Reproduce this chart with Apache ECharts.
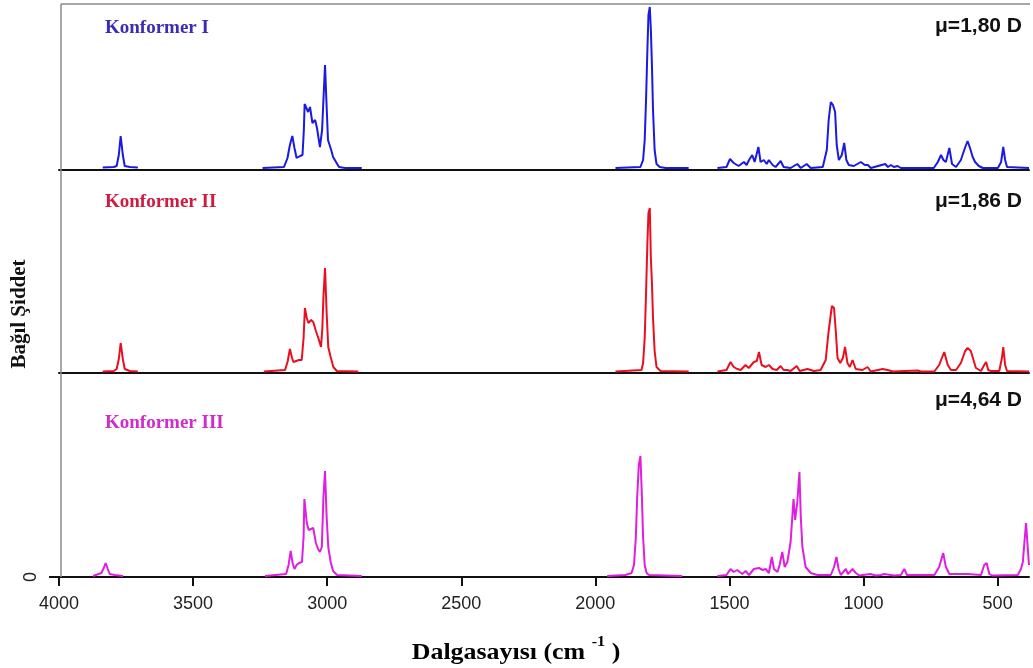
<!DOCTYPE html>
<html>
<head>
<meta charset="utf-8">
<script src="https://cdn.jsdelivr.net/npm/echarts@6/dist/echarts.min.js"></script>
<style>
html,body{margin:0;padding:0;background:#fff;}
#chart{width:1033px;height:668px;}
</style>
</head>
<body>
<div id="chart"></div>
<script>
// ---- Data (wavenumber cm-1, relative intensity) ----
const xTicks = [4000, 3500, 3000, 2500, 2000, 1500, 1000, 500];
const panelNames = ['Konformer I', 'Konformer II', 'Konformer III'];
const dipoleLabels = ['μ=1,80 D', 'μ=1,86 D', 'μ=4,64 D'];

const spectrumI = [
  [[3837,2.5],[3796,3],[3785,4],[3777,15],[3770,34],[3762,15],[3755,4],[3736,3],[3706,2.5]],
  [[3241,2],[3161,3],[3148,12],[3139,25],[3130,34],[3122,22],[3114,12],[3101,14],[3092,15],[3087,40],[3084,66],[3079,64],[3071,58],[3064,63],[3055,47],[3045,50],[3038,42],[3027,23],[3019,40],[3014,70],[3008,105],[3003,70],[2997,30],[2985,20],[2978,13],[2967,8],[2956,3],[2933,2],[2871,2]],
  [[1925,2],[1832,3],[1822,10],[1816,30],[1811,70],[1806,120],[1802,155],[1797,163],[1793,140],[1789,105],[1785,60],[1779,20],[1772,6],[1760,3],[1738,2],[1652,2]],
  [[1545,2],[1511,3],[1498,11],[1484,7],[1466,4],[1446,8],[1436,5],[1427,10],[1421,8],[1415,15],[1406,8],[1392,23],[1384,8],[1372,10],[1361,6],[1353,10],[1339,5],[1328,3],[1309,9],[1298,3],[1272,2],[1247,6],[1234,2],[1212,6],[1197,2],[1152,3],[1137,20],[1130,50],[1122,68],[1114,65],[1106,58],[1100,25],[1092,10],[1081,15],[1072,27],[1064,10],[1055,5],[1036,4],[1010,8],[995,5],[984,5],[973,2],[919,6],[909,3],[898,5],[887,3],[873,4],[861,2],[738,2],[723,8],[711,15],[702,10],[693,8],[680,22],[670,6],[655,3],[637,10],[622,22],[612,29],[603,22],[593,13],[584,8],[577,9],[570,4],[555,2],[499,2],[487,8],[479,23],[472,10],[465,3],[383,2]]
];

const spectrumII = [
  [[3837,1.5],[3796,2],[3785,4],[3777,14],[3770,30],[3762,14],[3755,4],[3736,2],[3706,1.5]],
  [[3236,1.5],[3157,3],[3147,12],[3139,24],[3131,15],[3126,11],[3116,12],[3105,13],[3095,13],[3088,35],[3083,65],[3076,55],[3070,50],[3060,53],[3052,51],[3042,42],[3033,35],[3023,26],[3018,45],[3014,76],[3008,105],[3002,60],[2996,26],[2987,16],[2977,6],[2964,2],[2884,1.5]],
  [[1925,1.5],[1828,3],[1822,10],[1816,35],[1811,80],[1806,130],[1802,160],[1797,165],[1793,115],[1789,90],[1785,55],[1779,22],[1772,6],[1757,2],[1652,1.5]],
  [[1545,1.5],[1511,3],[1496,11],[1484,6],[1471,4],[1458,3],[1440,8],[1428,5],[1409,11],[1398,12],[1390,21],[1380,8],[1365,6],[1353,8],[1339,4],[1324,3],[1309,7],[1298,3],[1284,3],[1272,2],[1249,7],[1238,2],[1209,4],[1185,2],[1160,3],[1141,13],[1131,40],[1118,67],[1110,65],[1103,40],[1097,15],[1087,10],[1077,15],[1069,26],[1060,10],[1051,6],[1041,13],[1029,4],[1004,3],[985,6],[973,1.5],[929,4],[910,3],[891,1.5],[798,2.5],[786,1.5],[736,1.5],[718,8],[708,15],[699,21],[686,8],[674,3],[655,3],[637,10],[621,22],[612,25],[600,22],[581,5],[562,2],[550,8],[543,11],[535,3],[525,2],[494,2],[484,15],[479,26],[472,8],[465,2],[383,1.5]]
];

const spectrumIII = [
  [[3873,1],[3842,4],[3833,9],[3826,14],[3818,8],[3811,3],[3792,2],[3761,1]],
  [[3232,1],[3153,3],[3144,12],[3136,26],[3129,14],[3122,8],[3114,12],[3105,14],[3094,15],[3088,40],[3085,78],[3076,54],[3069,47],[3064,49],[3052,49],[3042,34],[3034,28],[3027,25],[3020,30],[3014,80],[3008,106],[3002,60],[2996,30],[2987,15],[2978,6],[2963,2],[2871,1]],
  [[1956,1],[1888,2],[1865,4],[1856,12],[1849,40],[1844,80],[1838,112],[1832,121],[1827,85],[1822,40],[1816,12],[1809,4],[1800,2],[1676,1]],
  [[1545,1],[1511,2],[1496,8],[1484,5],[1471,7],[1452,3],[1440,6],[1427,2],[1409,8],[1390,9],[1376,7],[1365,8],[1353,4],[1342,20],[1334,8],[1321,5],[1313,12],[1303,25],[1294,10],[1284,15],[1272,35],[1261,78],[1255,57],[1247,75],[1239,105],[1234,60],[1228,30],[1216,10],[1197,4],[1172,2],[1122,2],[1110,10],[1101,20],[1093,8],[1085,2],[1066,8],[1058,3],[1041,8],[1029,4],[1016,1.5],[975,3],[954,1.5],[935,2],[923,3],[886,1.5],[861,2],[848,8],[838,2],[736,2],[718,10],[703,24],[693,10],[680,3],[612,3],[562,2],[550,12],[541,14],[531,3],[521,1.5],[425,2],[413,8],[406,15],[400,35],[394,54],[388,30],[383,12]]
];

const spectra = [spectrumI, spectrumII, spectrumIII];
const lineColors = ['#1a1ae0', '#e81020', '#e01ee0'];
const nameColors = ['#3a2cb5', '#d01a40', '#d02cc8'];

// ---- Layout ----
const grids = [
  {left: 59, right: 4, top: 4, height: 166},
  {left: 59, right: 4, top: 175, height: 198},
  {left: 59, right: 4, top: 380, height: 197}
];
const XMIN = 383, XMAX = 4000;
const tickFont = '"Liberation Sans", Arial, sans-serif';

const xAxes = grids.map((g, i) => {
  const bottom = i === 2;
  return {
    type: 'value', gridIndex: i, inverse: true, min: XMIN, max: XMAX,
    axisLine: {show: true, onZero: false, lineStyle: {color: '#111', width: 2}},
    axisTick: bottom ? {show: true, inside: false, length: 9, customValues: xTicks, lineStyle: {color: '#111', width: 2}} : {show: false},
    axisLabel: bottom ? {show: true, customValues: xTicks, margin: 18, fontSize: 18, color: '#222', fontFamily: tickFont, formatter: v => String(v)} : {show: false},
    splitLine: {show: false}
  };
});
const yAxes = grids.map((g, i) => {
  const bottom = i === 2;
  return {
    type: 'value', gridIndex: i, min: 0, max: g.height,
    axisLine: {show: false},
    axisTick: bottom ? {show: true, length: 10, customValues: [0], lineStyle: {color: '#111', width: 2}} : {show: false},
    axisLabel: bottom ? {show: true, customValues: [0], rotate: 90, margin: 19, fontSize: 18, color: '#222', fontFamily: tickFont, formatter: v => String(v)} : {show: false},
    splitLine: {show: false}
  };
});

const series = [];
spectra.forEach((segs, p) => {
  segs.forEach(seg => {
    series.push({
      type: 'line', xAxisIndex: p, yAxisIndex: p, data: seg,
      showSymbol: false, symbol: 'none', silent: true, animation: false,
      clip: true, z: 3,
      lineStyle: {color: lineColors[p], width: 2}
    });
  });
});

const nameY = [28, 202, 423];
const dipY = [26, 201, 400];
const graphic = [
  {type: 'line', shape: {x1: 61, y1: 4, x2: 1030, y2: 4}, style: {stroke: '#8a8a8a', lineWidth: 1.5}, z: 1},
  {type: 'line', shape: {x1: 61, y1: 4, x2: 61, y2: 577}, style: {stroke: '#8a8a8a', lineWidth: 1.5}, z: 1}
];
panelNames.forEach((t, i) => {
  graphic.push({type: 'text', x: 105, y: nameY[i], z: 10,
    style: {text: t, fill: nameColors[i], font: 'bold 19px "Liberation Serif", "Times New Roman", serif', textAlign: 'left', verticalAlign: 'middle'}});
});
dipoleLabels.forEach((t, i) => {
  graphic.push({type: 'text', x: 1022, y: dipY[i], z: 10, scaleX: 1.05,
    style: {text: t, fill: '#111', font: 'bold 20px "Liberation Sans", Arial, sans-serif', textAlign: 'right', verticalAlign: 'middle'}});
});
graphic.push({type: 'text', x: 20, y: 314, rotation: Math.PI / 2, z: 10,
  style: {text: 'Bağıl Şiddet', fill: '#111', font: 'bold 21px "Liberation Serif", "Times New Roman", serif', textAlign: 'center', verticalAlign: 'middle'}});
graphic.push({type: 'text', x: 516, y: 650, z: 10, scaleX: 1.08,
  style: {
    text: '{a|Dalgasayısı (cm }{b|-1}{a| )}', textAlign: 'center', verticalAlign: 'middle',
    rich: {
      a: {fontFamily: '"Liberation Serif", "Times New Roman", serif', fontWeight: 'bold', fontSize: 24, color: '#111', lineHeight: 30, verticalAlign: 'bottom'},
      b: {fontFamily: '"Liberation Serif", "Times New Roman", serif', fontWeight: 'bold', fontSize: 15, color: '#111', lineHeight: 30, verticalAlign: 'top', padding: [0, 0, 12, 0]}
    }
  }});

const chart = echarts.init(document.getElementById('chart'), null, {renderer: 'canvas'});
chart.setOption({
  backgroundColor: '#fff',
  animation: false,
  grid: grids,
  xAxis: xAxes,
  yAxis: yAxes,
  series: series,
  graphic: graphic
});
</script>
</body>
</html>
